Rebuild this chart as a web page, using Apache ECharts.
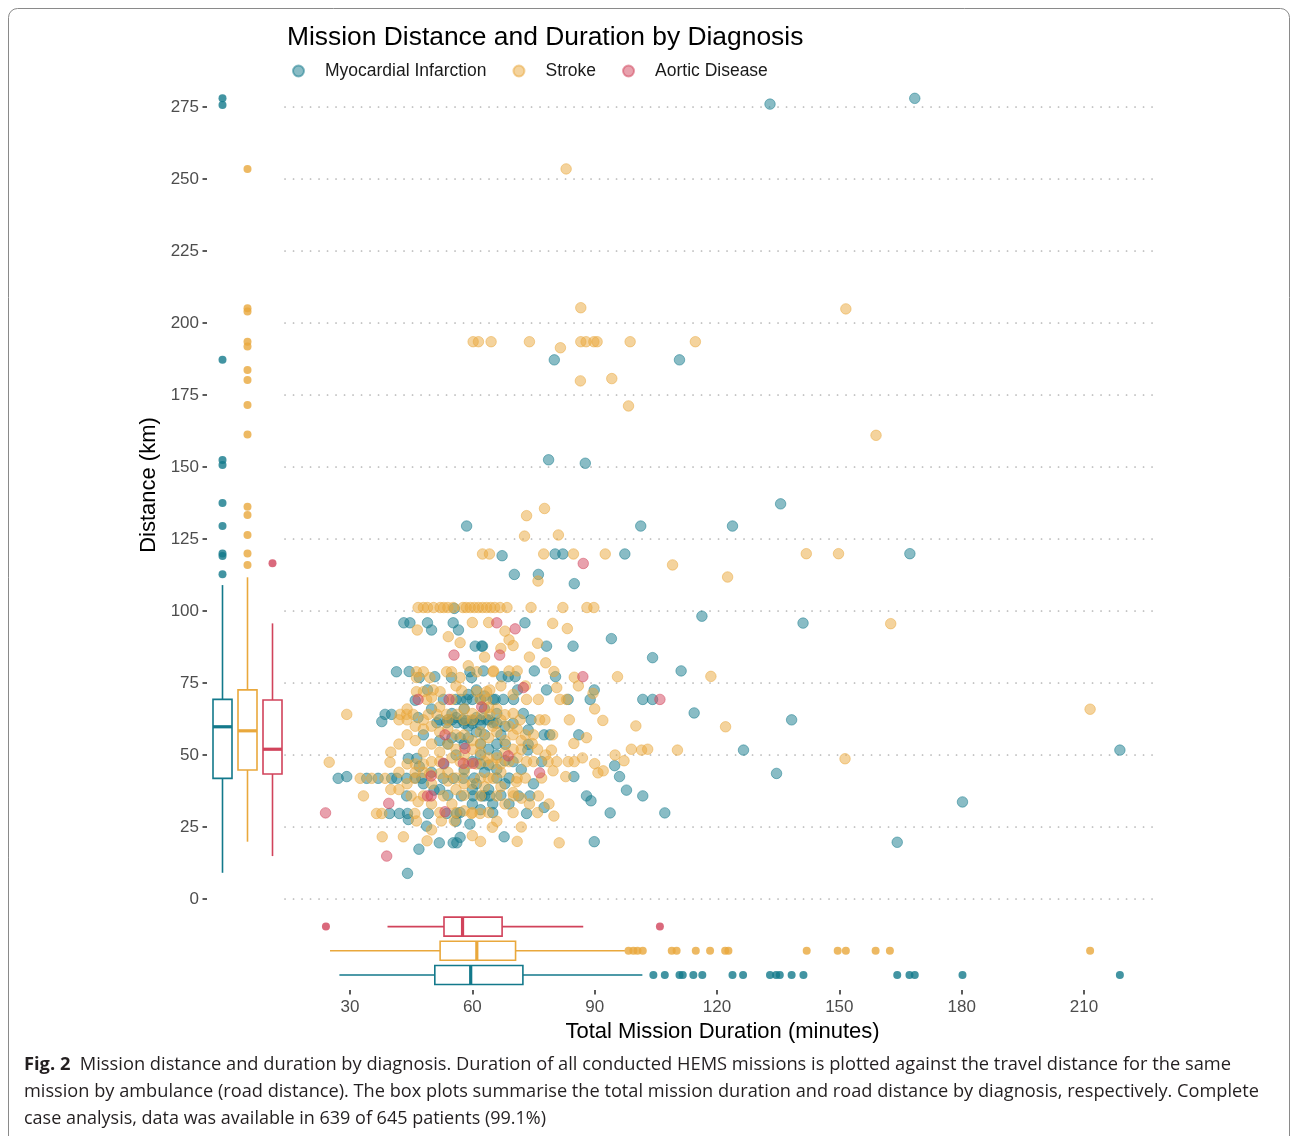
<!DOCTYPE html>
<html><head><meta charset="utf-8">
<script src="https://cdn.jsdelivr.net/npm/echarts@6/dist/echarts.min.js"></script>
<style>html,body{margin:0;padding:0;background:#fff}#c{width:1290px;height:1136px}</style>
</head><body><div id="c"></div>
<script>
// ---------- DATA ----------
const diagnoses = ['Myocardial Infarction', 'Stroke', 'Aortic Disease'];
const xTicks = [30, 60, 90, 120, 150, 180, 210];
const yTicks = [0, 25, 50, 75, 100, 125, 150, 175, 200, 225, 250, 275];

// [total mission duration (min), road distance (km)]
const miPoints = [
[133,276],[168.5,278],[80.1,187.2],[110.8,187.2],[78.7,152.5],[87.7,151.3],[135.6,137.2],
[58.6,129.5],[101.3,129.5],[123.8,129.5],[67.3,119.2],[80.3,119.8],[82.2,119.8],[97.4,119.8],[167.3,119.9],
[70.3,112.7],[76.2,112.7],[85,109.5],[116.3,98.2],[141.1,95.8],
[114.4,64.6],[138.3,62.2],[126.5,51.7],[218.8,51.7],[134.6,43.6],[180.2,33.7],[164.2,19.7],
[72.9,95.9],[78.2,87.8],[84.7,87.8],[94.1,90.4],[62.5,87.8],[104.2,83.8],[111.2,79.2],
[62.7,79.2],[75.2,79.2],[67.2,77.2],[68.8,77.2],[70.5,77.2],[80.4,77.2],
[71.1,72.6],[78.2,72.6],[89.9,72.6],
[65.6,69.3],[67.6,69.3],[70.1,69.3],[83.5,69.3],[88.9,69.3],[101.8,69.3],[104.2,69.3],
[72.5,64.4],[74.4,62.2],[73.7,58.7],[86.1,57],[77.6,57],[79,57],[68.1,53.7],[73.7,53.7],[73.6,51.7],
[94.9,46.3],[96.1,42.5],[77,47.7],[84.9,42.5],
[97.8,37.8],[101.8,35.8],[88,35.8],[89.1,34.1],[74.1,35.8],[71.3,35.8],
[77.6,31.8],[73.3,29.7],[93.8,29.9],[107.2,29.9],[67.8,21.6],[89.9,19.9],
[44.3,48.8],[46.4,48.8],
[27.1,41.9],[29.2,42.5],[34.1,41.9],[36.9,41.9],[40.2,41.9],[41.5,41.9],[43.9,41.9],[47.6,41.9],[52.9,41.9],[55.3,41.9],[57.8,41.9],
[43.9,35.8],[50.6,37.8],[57.3,35.8],[60.2,35.8],[62.3,35.8],[64.3,35.8],
[39.7,29.7],[42.1,29.7],[44.1,29.7],[49.2,29.7],[53.7,29.7],[56.2,29.7],
[44.3,27.6],[48.8,25.3],[51.9,19.5],[55.3,19.5],[56.2,19.5],[57,21.4],[46.9,17.3],[44.1,8.9],
[55.6,100.9],[43.2,95.9],[44.7,95.9],[49,95.9],[50,93.4],[55.3,95.9],[56.6,93.4],[60.7,87.8],[62.3,87.8],
[41.4,78.9],[50.8,77.2],[54.9,76.9],[59.4,78.9],[59.8,76.9],
[52.9,69.3],[57.2,69.3],[58.6,69.3],[65.1,69.3],
[38.6,64.1],[40.2,64.1],[37.8,61.6],[46.7,63],[51.3,61.2],[53.7,61.2],[56.2,61.2],[58.6,62],[60.2,62],[65.1,61.2],
[55,62.2],[57.5,62.2],[59,60],[61,58],[62,62.2],[63.5,62.2],[48,57],[52,55],[54,53.8],[56,50],[58,53.8],[60,47.7],
[62,50],[64,46.5],[66,53.8],[67,57],[69,42],[66,42],[63,44],[60.5,42],[61,40],[53,46.9],[50,44],[47,46],[64,38],
[67,36],[69,33],[65,30],[62,31],[59.4,26],[57,30],[70,47.7],[72,45],[75,40],[66,64.4],[68,60],[70,61],[63,66],
[58,66],[55,64.4],[50,66],[46,69],[49,72.6],[44.5,79],[47,76.9],
[52,62.2],[54,62.2],[56,63],[58,61],[60,61],[61,63],[62,60.5],[64,62.2],[66,61],[56,69.3],[60,69.3],[62,69.3],
[63,70.5],[59,71],[61,72.6],[55,56],[57,56],[59,56],[63,57],[62,53.8],[64,52],[66,50],[68,48],[58,45],[62,46.9],
[66,45],[68,40],[60,38],[63,35.8],[65,33],[54,36],[52,38],[48,40],[46,42],[56,27],[60,33]
];

const strokePoints = [
[83,253.5],[86.6,205.3],[151.6,204.9],
[60.2,193.5],[61.5,193.5],[64.6,193.5],[74,193.5],[81.6,191.4],[86.6,193.5],[87.9,193.5],[89.8,193.5],[90.6,193.5],[98.7,193.5],[114.7,193.5],
[86.5,179.9],[94.2,180.7],[98.3,171.2],[159,161],
[77.7,135.6],[73.3,133.1],[72.8,126],[81.1,126.4],
[62.5,119.8],[64.2,119.8],[77.5,119.8],[84.8,119.8],[92.6,119.8],[141.9,119.9],[149.8,119.9],
[109.1,116],[76.1,110.4],[122.6,111.8],
[162.6,95.6],[118.5,77.3],[122.1,59.8],[211.5,65.9],[151.4,48.7],
[46.7,101.2],[48,101.2],[49,101.2],[50.5,101.2],[52.1,101.2],[53,101.2],[54,101.2],[55.3,101.2],[57.7,101.2],[58.5,101.2],
[59.5,101.2],[60.5,101.2],[61.5,101.2],[62.5,101.2],[63.5,101.2],[64.5,101.2],[65.5,101.2],[66.8,101.2],[68.5,101.2],
[74.4,101.2],[82.2,101.2],[88.1,101.2],[89.8,101.2],
[79.7,95.7],[83.3,93.9],[76,88.8],[65.2,79.2],[69,79.2],[71,79.2],[95.6,77.2],[80.7,73.4],[89.6,71.4],
[73.3,69.3],[76.2,69.3],[81.5,69.3],[83.1,69.3],
[71.7,62.2],[76.5,62.2],[77.8,62.2],[83.8,62.2],[100.1,60.1],
[79.7,57],[84.9,54],[74.7,54],[79.4,51.7],[101.5,51.7],[110.3,51.7],
[97.2,48],[90.8,43.8],[92.1,44.5],
[73.3,47.7],[75,47.7],[78.6,47.7],[80.7,47.7],[83.5,47.7],[85,47.7],
[79.8,44.5],[82.9,42.5],[70.8,40.7],[76.2,35.8],[70.1,35.8],[78.8,33],[80,28.8],[64.9,24.9],[81.3,19.5],
[24.9,47.5],[39.8,47.5],[32.5,41.9],[35.3,41.9],[38.6,41.9],[45.9,41.9],[49.5,43.5],[52,43.5],[65.1,41.9],
[33.3,35.8],[52.9,35.8],[46.7,33.8],
[36.5,29.7],[37.8,29.7],[45.9,29.7],[58,30.6],[59.8,29.7],[61.9,29.7],
[46.3,27.1],[52.4,27.1],[55.6,27.1],[37.9,21.6],[43.1,21.6],[48.9,20.2],
[46.5,93.4],[54.1,91.1],
[46.3,78.9],[48,78.9],[53.7,78.9],[54.9,78.9],[57,76.9],[61.1,78.9],[65.1,78.9],[46.3,76.9],[49.6,76.9],
[46.3,72],[48,72],[50.4,72.6],[52.1,72],[57.4,72.3],[61.1,72],[63.5,72],[64.3,72.6],
[48.8,69.3],[61.9,69.3],[63.5,69.3],
[29.2,64.1],[42.3,64.1],[43.9,64.1],[45.5,64.1],[49.2,64.1],[51.3,64.1],[53.7,64.1],[56.2,64.1],[62.3,64.1],[64.3,64.1],
[42,62.2],[44,62.2],[48,62.2],[50,60],[54,59],[56,57],[58,57],[60,55],[62,54],[64,56],[66,58],[68,55],[70,57],[72,55],
[46,55],[44,57],[42,53.8],[40,51],[48,51],[50,53.8],[52,51],[55,49],[57,47.7],[59,46.9],[61,46.9],[63,47.7],[65,46.9],
[67,46.9],[69,47.7],[71,49],[44,46.9],[46,46.9],[48,46.9],[42,44],[54,44],[56,42],[58,44],[62,42],[64,42],[67,44],
[71,42],[73,42],[77,42],[56,38],[58,36],[62,35.8],[66,35.8],[68,33],[70,30],[64,30],[66,27],[72,25],[40,38],[45,35.8],
[48,35.8],[50,33],[55,33],[60,40],[66,66],[64,66.5],[68,64],[70,64.4],[60,64.4],[58,66],[52,66.7],[55,69.3],[50,70],
[70,71],[73,74],[67,74],[56,74],[59,81],[63,84],[67,87],[69,90],[57,89],[60,96],[64,96],[68,93],[70,88],[74,84],[78,82],
[80,79],[85,77],[86,74],[90,66],[92,62],[88,56],[87,49],[90,47],[95,50],[99,52],[103,52],[76,30],[71,20],
[44,66],[46,60],[48,59],[52,58],[54,62.2],[58,62.2],[60,62.2],[62,58],[65,60],[67,62.2],[69,60],[71,59],[73,57],
[75,57],[76,52],[78,50],[72,52],[70,52],[68,51],[66,49],[64,49],[62,51],[60,52],[58,50],[56,52],[54,53.8],[52,47.7],
[50,47.7],[48,44],[46,44],[44,40],[42,38],[50,40],[54,41],[58,40],[63,39],[67,39],[70,37],[72,35],[74,33],[60,30],
[56,30],[52,30],[50,24],[60,22],[62,20]
];

const aorticPoints = [
[66,95.9],[70.5,93.8],[66.7,84.7],[87.1,77.2],[72.5,73.4],[106,69.3],[55.5,84.7],
[46.7,69.3],[54.3,69.3],[62.3,66.7],[68.8,49.7],[76.5,43.8],[87.2,116.5],
[49.9,42.7],[49,35.8],[49.9,35.8],[39.5,33.2],[24,29.9],[53.3,30.3],[39,14.9],
[52.9,47.1],[57.8,47.1],[60.2,47.1],[58.2,52.3],[53.3,57]
];

// box-plot statistics: [lower whisker, Q1, median, Q3, upper whisker]
const miDistanceBox = [9.1, 41.9, 59.8, 69.3, 109.0];
const strokeDistanceBox = [19.9, 44.8, 58.4, 72.6, 111.7];
const aorticDistanceBox = [14.9, 43.4, 52.0, 69.1, 95.7];
const miDistanceOutliers = [278, 275.7, 187.2, 152.4, 150.7, 137.5, 129.5, 120.0, 119.1, 112.8];
const strokeDistanceOutliers = [253.5, 205.1, 204, 193.5, 191.8, 183.7, 180.2, 171.5, 161.3, 136.2, 133.3, 126.4, 120, 116];
const aorticDistanceOutliers = [116.6];

const miDurationBox = [27.4, 50.8, 59.6, 72.4, 101.7];
const strokeDurationBox = [25.1, 52.1, 61.1, 70.6, 97.4];
const aorticDurationBox = [39.2, 53.05, 57.6, 67.3, 87.2];
const miDurationOutliers = [104.4, 107.2, 110.8, 111.6, 114.2, 116.4, 123.8, 126.4, 133.0, 134.5, 135.4, 138.3, 141.2, 164.2, 167.2, 168.5, 180.2, 218.8];
const strokeDurationOutliers = [98.3, 99.5, 100.5, 101.8, 108.9, 110.1, 114.8, 118.3, 122.0, 122.8, 142.0, 149.6, 151.6, 158.9, 162.4, 211.5];
const aorticDurationOutliers = [24.1, 106.0];

// ---------- STYLE / LAYOUT ----------
const colors = ['#13798b', '#e9a83c', '#d1435b'];
const X_MIN = 14.06, X_MAX = 228.64, Y_MIN = 0, Y_MAX = 281.94;
const FONT = '"Liberation Sans", Arial, Helvetica, sans-serif';

const chart = echarts.init(document.getElementById('c'), null, {renderer: 'canvas'});

function boxRenderer(vertical) {
  return function (params, api) {
    const cat = api.value(0);
    const v = [api.value(1), api.value(2), api.value(3), api.value(4), api.value(5)];
    const p = v.map(val => vertical ? api.coord([cat, val]) : api.coord([val, cat]));
    const hw = 9.5;
    const col = colors[cat];
    const ls = {stroke: col, lineWidth: 1.6, fill: null};
    let children;
    if (vertical) {
      const cx = p[0][0];
      children = [
        {type: 'line', shape: {x1: cx, y1: p[0][1], x2: cx, y2: p[1][1]}, style: ls},
        {type: 'line', shape: {x1: cx, y1: p[3][1], x2: cx, y2: p[4][1]}, style: ls},
        {type: 'rect', shape: {x: cx - hw, y: p[3][1], width: 2 * hw, height: p[1][1] - p[3][1]}, style: ls},
        {type: 'line', shape: {x1: cx - hw, y1: p[2][1], x2: cx + hw, y2: p[2][1]}, style: {stroke: col, lineWidth: 3.2}}
      ];
    } else {
      const cy = p[0][1];
      children = [
        {type: 'line', shape: {x1: p[0][0], y1: cy, x2: p[1][0], y2: cy}, style: ls},
        {type: 'line', shape: {x1: p[3][0], y1: cy, x2: p[4][0], y2: cy}, style: ls},
        {type: 'rect', shape: {x: p[1][0], y: cy - hw, width: p[3][0] - p[1][0], height: 2 * hw}, style: ls},
        {type: 'line', shape: {x1: p[2][0], y1: cy - hw, x2: p[2][0], y2: cy + hw}, style: {stroke: col, lineWidth: 3.2}}
      ];
    }
    return {type: 'group', children};
  };
}

const allPoints = [miPoints, strokePoints, aorticPoints];
const distBoxes = [miDistanceBox, strokeDistanceBox, aorticDistanceBox];
const durBoxes = [miDurationBox, strokeDurationBox, aorticDurationBox];
const distOut = [miDistanceOutliers, strokeDistanceOutliers, aorticDistanceOutliers];
const durOut = [miDurationOutliers, strokeDurationOutliers, aorticDurationOutliers];

const series = [];
diagnoses.forEach((name, i) => {
  series.push({
    name, type: 'scatter', xAxisIndex: 0, yAxisIndex: 0, data: allPoints[i],
    symbol: 'circle', symbolSize: 10.5, z: 3,
    itemStyle: {color: colors[i], opacity: 0.5, borderColor: colors[i], borderWidth: 1},
    emphasis: {disabled: true}, animation: false
  });
});
series.push({
  name: 'distBox', type: 'custom', xAxisIndex: 1, yAxisIndex: 1, renderItem: boxRenderer(true),
  data: distBoxes.map((b, i) => [i].concat(b)), animation: false, silent: true
});
series.push({
  name: 'distOut', type: 'scatter', xAxisIndex: 1, yAxisIndex: 1, symbolSize: 8, animation: false, silent: true,
  data: distOut.flatMap((arr, i) => arr.map(v => ({value: [i, v], itemStyle: {color: colors[i]}})))
});
series.push({
  name: 'durBox', type: 'custom', xAxisIndex: 2, yAxisIndex: 2, renderItem: boxRenderer(false),
  data: durBoxes.map((b, i) => [i].concat(b)), animation: false, silent: true
});
series.push({
  name: 'durOut', type: 'scatter', xAxisIndex: 2, yAxisIndex: 2, symbolSize: 8, animation: false, silent: true,
  data: durOut.flatMap((arr, i) => arr.map(v => ({value: [v, i], itemStyle: {color: colors[i]}})))
});

// caption lines
const capFont = '"Open Sans", "Liberation Sans", sans-serif';
const capSize = 18;
const capLines = [
  {bold: 'Fig. 2', text: '  Mission distance and duration by diagnosis. Duration of all conducted HEMS missions is plotted against the travel distance for the same', width: 1207, y: 1065},
  {bold: '', text: 'mission by ambulance (road distance). The box plots summarise the total mission duration and road distance by diagnosis, respectively. Complete', width: 1235, y: 1092},
  {bold: '', text: 'case analysis, data was available in 639 of 645 patients (99.1%)', width: 522, y: 1119}
];
const mctx = document.createElement('canvas').getContext('2d');
function measure(t, w) { mctx.font = w + ' ' + capSize + 'px ' + capFont; return mctx.measureText(t).width; }
const capGraphics = capLines.map(l => {
  const w = (l.bold ? measure(l.bold, 'bold') : 0) + measure(l.text, 'normal');
  return {
    type: 'text', x: 24, y: l.y, scaleX: l.width / w, silent: true,
    style: {
      text: (l.bold ? '{b|' + l.bold + '}' : '') + '{n|' + l.text + '}',
      rich: {
        b: {fontFamily: capFont, fontSize: capSize, fontWeight: 'bold', fill: '#231f20'},
        n: {fontFamily: capFont, fontSize: capSize, fontWeight: 'normal', fill: '#231f20'}
      },
      verticalAlign: 'middle', fill: '#231f20'
    }
  };
});

const option = {
  backgroundColor: '#ffffff',
  animation: false,
  textStyle: {fontFamily: FONT},
  title: {
    text: 'Mission Distance and Duration by Diagnosis', left: 282, top: 20,
    textStyle: {fontFamily: FONT, fontSize: 26.4, fontWeight: 'normal', color: '#000'}
  },
  legend: {
    data: diagnoses, left: 287, top: 57, icon: 'circle', itemWidth: 11, itemHeight: 11, itemGap: 26,
    textStyle: {fontFamily: FONT, fontSize: 17.5, color: '#1a1a1a', padding: [0, 0, 0, 16]},
    selectedMode: false
  },
  grid: [
    {left: 285, right: 130, top: 87, bottom: 237},
    {left: 210, width: 75, top: 87, bottom: 237},
    {left: 285, right: 130, top: 914.5, height: 72.6}
  ],
  xAxis: [
    {gridIndex: 0, type: 'value', min: X_MIN, max: X_MAX, show: false},
    {gridIndex: 1, type: 'category', data: diagnoses, show: false},
    {
      gridIndex: 2, type: 'value', min: X_MIN, max: X_MAX, position: 'bottom', offset: 3,
      axisLine: {show: false, onZero: false},
      axisTick: {show: true, length: 4.5, customValues: xTicks, lineStyle: {color: '#333', width: 1.6}},
      axisLabel: {customValues: xTicks, fontSize: 17, color: '#4d4d4d', margin: 9, fontFamily: FONT},
      splitLine: {show: false},
      name: 'Total Mission Duration (minutes)', nameLocation: 'middle', nameGap: 31,
      nameTextStyle: {fontSize: 22, color: '#000', fontFamily: FONT}
    }
  ],
  yAxis: [
    {
      gridIndex: 0, type: 'value', min: Y_MIN, max: Y_MAX, interval: 25, offset: 78,
      axisLine: {show: false, onZero: false},
      axisTick: {show: true, length: 4.5, customValues: yTicks, lineStyle: {color: '#333', width: 1.6}},
      axisLabel: {customValues: yTicks, fontSize: 17, color: '#4d4d4d', margin: 8, fontFamily: FONT},
      splitLine: {show: true, lineStyle: {color: '#b3b3b3', width: 1.7, type: [0.1, 8.4], cap: 'round'}},
      name: 'Distance (km)', nameLocation: 'middle', nameGap: 46, nameRotate: 90,
      nameTextStyle: {fontSize: 22, color: '#000', fontFamily: FONT, padding: [0, 0, 0, 16]}
    },
    {gridIndex: 1, type: 'value', min: Y_MIN, max: Y_MAX, show: false, splitLine: {show: false}},
    {gridIndex: 2, type: 'category', data: diagnoses, show: false}
  ],
  series,
  graphic: [
    {type: 'rect', shape: {x: 8.5, y: 8.5, width: 1281, height: 1200, r: 9}, style: {fill: null, stroke: '#8a8a8a', lineWidth: 1}, silent: true, z: 0}
  ].concat(capGraphics)
};
chart.setOption(option);
</script></body></html>
